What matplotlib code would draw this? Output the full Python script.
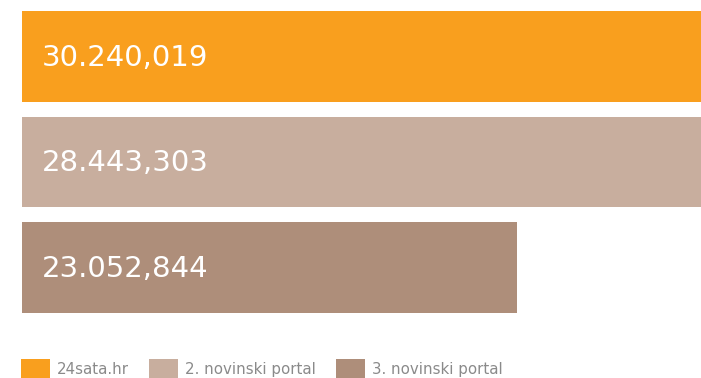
import matplotlib.pyplot as plt
from matplotlib.patches import Rectangle

# posjećenost portala
portali = ["24sata.hr", "2. novinski portal", "3. novinski portal"]
vrijednosti = [30.240019, 28.443303, 23.052844]
oznake = ["30.240,019", "28.443,303", "23.052,844"]
boje = ["#F99F1E", "#C8AE9E", "#AE8E7A"]

plt.rcParams["font.family"] = ["DejaVu Sans"]

fig = plt.figure(figsize=(7.01, 3.78), dpi=100)
ax = fig.add_axes([22 / 701, 65 / 378, 679 / 701, 302 / 378])

pozicije = range(len(vrijednosti))
ax.barh(pozicije, vrijednosti, height=0.862, color=boje, left=0)
ax.set_xlim(8.94, 28.3)
ax.set_ylim(2.431, -0.431)
ax.axis("off")

# natpisi vrijednosti unutar traka
for i, txt in enumerate(oznake):
    ax.text(20 / 679, i + 0.01, txt, transform=ax.get_yaxis_transform(),
            color="white", fontsize=21, va="center", ha="left")

# legenda ispod grafa
leg_x = [21, 149, 336]
for x, boja, naziv in zip(leg_x, boje, portali):
    fig.add_artist(Rectangle((x / 701, 0), 29 / 701, 19 / 378,
                             transform=fig.transFigure, color=boja, lw=0))
    fig.text((x + 36) / 701, 8.5 / 378, naziv, color="#8A8A8A", fontsize=10.8,
             va="center", ha="left")

fig.savefig("out.png", dpi=100)
